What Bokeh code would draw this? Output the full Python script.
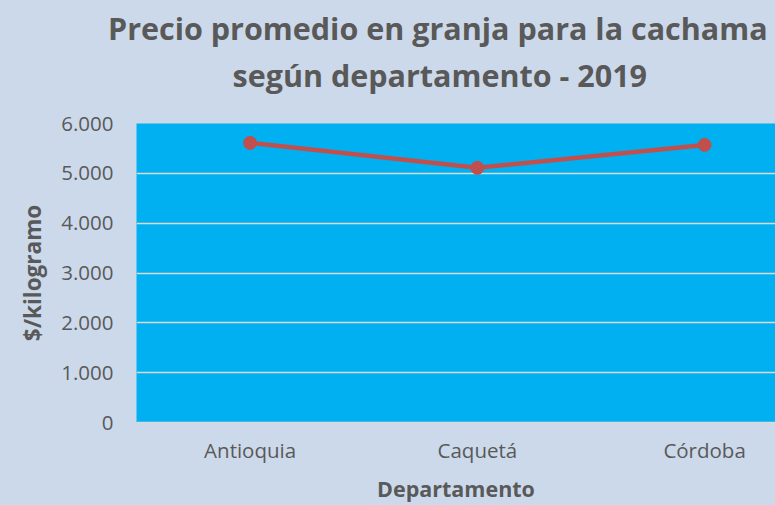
from bokeh.plotting import figure
from bokeh.models import Range1d, FixedTicker, Title, LinearAxis
from bokeh.embed import file_html
from bokeh.resources import INLINE

# ---- data ----
departamentos = ["Antioquia", "Caquetá", "Córdoba"]
precios = [5610, 5110, 5570]
y_ticks = [0, 1000, 2000, 3000, 4000, 5000, 6000]
y_tick_labels = ["0", "1.000", "2.000", "3.000", "4.000", "5.000", "6.000"]
titulo_1 = "Precio promedio en granja para la cachama"
titulo_2 = "según departamento - 2019"
x_titulo = "Departamento"
y_titulo = "$/kilogramo"

# ---- styles ----
BG = "#ccd9eb"
PLOT_BG = "#00b0f0"
LINE = "#c0504d"
TXT = "#595959"
GRID = "#d9d9d9"
FONT = "Open Sans"

x_pos = list(range(len(departamentos)))

p = figure(width=775, height=505, output_backend="svg", toolbar_location=None,
           x_range=Range1d(-0.5, 2.312), y_range=Range1d(0, 6000),
           min_border_left=136, min_border_right=0, min_border_top=123,
           min_border_bottom=83, background_fill_color=PLOT_BG,
           border_fill_color=BG, outline_line_color=None, title=None)

# invisible spacers between the frame and the title lines
spacer = LinearAxis(ticker=FixedTicker(ticks=[]), axis_line_color=None,
                    major_tick_line_color=None, minor_tick_line_color=None,
                    major_tick_out=29, major_tick_in=0, minor_tick_out=0,
                    major_label_standoff=0, axis_label=None)
p.add_layout(spacer, "above")
p.add_layout(Title(text=" ", text_font=FONT, text_font_size="10px",
                   standoff=10.4, text_color=BG), "above")

# title lines (line 2 nearer the frame, line 1 above it)
p.add_layout(Title(text=titulo_2, align="left", offset=96, standoff=2.5,
                   text_font=FONT, text_font_size="30.5px", text_font_style="bold",
                   text_color=TXT), "above")
p.add_layout(Title(text=titulo_1, align="left", offset=-28.5, standoff=2.5,
                   text_font=FONT, text_font_size="30.5px", text_font_style="bold",
                   text_color=TXT), "above")

p.line(x_pos, precios, line_color=LINE, line_width=4.5)
p.scatter(x_pos, precios, size=13, fill_color=LINE, line_color=LINE)

# x axis (bottom)
xa = p.below[0]
xa.ticker = FixedTicker(ticks=x_pos)
xa.major_label_overrides = {i: d for i, d in zip(x_pos, departamentos)}
xa.axis_label = x_titulo
xa.axis_label_text_font = FONT
xa.axis_label_text_font_style = "bold"
xa.axis_label_text_font_size = "21.5px"
xa.axis_label_text_color = TXT
xa.axis_label_standoff = 7
xa.major_label_text_font = FONT
xa.major_label_text_font_size = "20.5px"
xa.major_label_text_color = TXT
xa.major_label_standoff = 13
xa.major_tick_out = 0
xa.major_tick_in = 0
xa.minor_tick_out = 0
xa.major_tick_line_color = None
xa.minor_tick_line_color = None
xa.axis_line_color = GRID
xa.axis_line_width = 1.5

# y axis
p.yaxis.ticker = FixedTicker(ticks=y_ticks)
p.yaxis.major_label_overrides = {v: s for v, s in zip(y_ticks, y_tick_labels)}
p.yaxis.axis_label = y_titulo
p.yaxis.axis_label_text_font = FONT
p.yaxis.axis_label_text_font_style = "bold"
p.yaxis.axis_label_text_font_size = "22.5px"
p.yaxis.axis_label_text_color = TXT
p.yaxis.axis_label_standoff = 10
p.yaxis.major_label_text_font = FONT
p.yaxis.major_label_text_font_size = "20.5px"
p.yaxis.major_label_text_color = TXT
p.yaxis.major_label_standoff = 23
p.yaxis.major_tick_out = 0
p.yaxis.major_tick_in = 0
p.yaxis.minor_tick_out = 0
p.yaxis.major_tick_line_color = None
p.yaxis.minor_tick_line_color = None
p.yaxis.axis_line_color = None

p.xgrid.grid_line_color = None
p.ygrid.ticker = FixedTicker(ticks=y_ticks)
p.ygrid.grid_line_color = GRID
p.ygrid.grid_line_width = 1.5

html = file_html(p, INLINE)
html = html.replace("</head>",
                    "<style>html,body{margin:0;padding:0;background:%s;overflow:hidden}</style></head>" % BG, 1)
open("out.html", "w").write(html)
